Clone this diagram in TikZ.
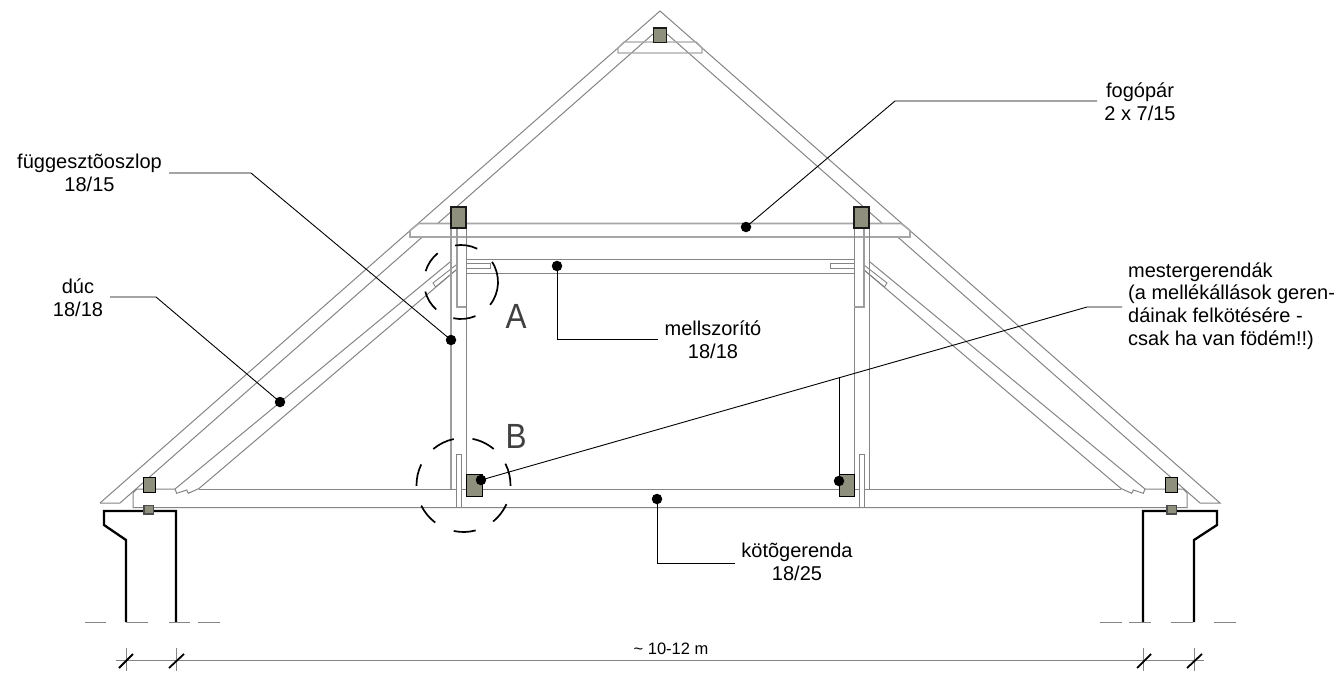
\documentclass[tikz,border=0pt]{standalone}
\usepackage{fontspec}
\setmainfont{Liberation Sans}
\tikzset{
  x=1pt,y=-1pt,
  wood/.style={draw=black!48,line width=1pt,line join=miter},
  woodb/.style={draw=black!35,line width=1.6pt},
  woodp/.style={draw=black!38,line width=1.2pt},
  woodw/.style={wood,fill=white},
  sq/.style={draw=black!90,line width=1.5pt,fill=squarefill},
  sqs/.style={draw=black!70,line width=1.5pt,fill=squarefill},
  sqt/.style={draw=black,line width=1pt,fill=squarefill},
  wall/.style={draw=black,line width=2.3pt,line join=miter},
  dimg/.style={draw=black!48,line width=1pt},
  slash/.style={draw=black,line width=1.8pt},
  lead/.style={draw=black,line width=.9pt},
  dot/.style={circle,fill=black,inner sep=0pt,minimum size=10.5pt},
  lab/.style={font=\fontsize{20}{22.6}\selectfont,align=center,inner sep=0pt},
  circ/.style={draw=black,line width=1.7pt},
  big/.style={font=\fontsize{35}{36}\selectfont,inner sep=0pt,text=black!75,xscale=.9},
}
\definecolor{squarefill}{HTML}{8F8F7E}
\begin{document}
\begin{tikzpicture}
\useasboundingbox (0,0) rectangle (1343,674);
\fill[white] (0,0) rectangle (1343,674);
% rafters
\draw[wood] (100,503) -- (660,11) -- (1220,503) -- (1200,503) -- (667,34);
\draw[wood] (100,503) -- (120,503) -- (653,34);
% apex plate
\draw[woodb,line width=1.4pt] (624,42) -- (618,48) -- (618,53) -- (702,53) -- (702,48) -- (696,42) -- cycle;
% collar
\draw[woodb,fill=white] (418.7,223.5) -- (410,230.5) -- (410,237) -- (910,237) -- (910,230.5) -- (901.3,223.5) -- cycle;
% struts
\draw[wood] (450,262) -- (175,489) -- (176.7,493.3) -- (186.7,490) -- (188.3,493.3) -- (199,488.5) -- (456,270);
\draw[wood] (870,262) -- (1145,489) -- (1143.3,493.3) -- (1133.3,490) -- (1131.7,493.3) -- (1121,488.5) -- (864,270);
\draw[wood,line width=.9pt] (456,265) -- (433,283) -- (435.5,287) -- (456,270);
\draw[wood,line width=.9pt] (864,265) -- (887,283) -- (884.5,287) -- (864,270);
% straining beam
\draw[wood] (466,259) -- (854,259) (466,273) -- (854,273);
\draw[wood,line width=.9pt] (466,263) -- (490,263) -- (490,268) -- (466,268);
\draw[wood,line width=.9pt] (854,263) -- (830,263) -- (830,268) -- (854,268);
% posts
\draw[woodp] (451,228) -- (451,489);
\draw[wood] (466,228) -- (466,474);
\draw[woodp] (457,228) -- (457,307) -- (466,307);
\draw[wood] (854,228) -- (854,474);
\draw[wood] (869,228) -- (869,489);
\draw[woodp] (864,228) -- (864,307) -- (854,307);
% tie beam
\draw[wood] (133,493) -- (137,489) -- (175,489);
\draw[wood] (199,489) -- (1121,489);
\draw[wood] (1145,489) -- (1183,489) -- (1187,493) -- (1187,507.5) -- (133,507.5) -- (133,493);
\draw[woodw,line width=.9pt] (456.5,507.5) -- (456.5,454) -- (461,454) -- (461,507.5) -- cycle;
\draw[woodw,line width=.9pt] (859.5,507.5) -- (859.5,454) -- (864,454) -- (864,507.5) -- cycle;
% squares
\draw[sq] (653.5,28) rectangle (666.5,42.5);
\draw[sq] (451,207) rectangle (466,228);
\draw[sq] (854,207) rectangle (869,228);
\draw[sqt] (143,477.5) rectangle (155,492);
\draw[sqt] (1165.5,477.5) rectangle (1177.5,492);
\draw[sqt] (466,474) rectangle (482,496);
\draw[sqt] (839,474) rectangle (854,496);
% walls
\draw[wall] (126,622) -- (126,540) -- (104,525) -- (104,511) -- (176,511) -- (176,622);
\draw[wall] (1194,622) -- (1194,540) -- (1217,525) -- (1217,511) -- (1143,511) -- (1143,622);
\draw[sqs] (144,505.5) rectangle (153.5,514);
\draw[sqs] (1167,505.5) rectangle (1176.5,514);
% ground dashes
\draw[dimg] (85,622) -- (106,622) (126,622) -- (148,622) (169,622) -- (190,622) (198,622) -- (220,622);
\draw[dimg] (1100,622) -- (1122,622) (1129,622) -- (1151,622) (1171,622) -- (1193,622) (1214,622) -- (1236,622);
% dimension
\draw[dimg] (116,660) -- (1204,660);
\draw[dimg] (126,648) -- (126,671) (176,648) -- (176,671) (1143,648) -- (1143,671) (1194,648) -- (1194,671);
\draw[slash] (119,668) -- (133,654) (169,668) -- (184,654) (1137,668) -- (1151,654) (1187,668) -- (1202,654);
\node[font=\fontsize{16.5}{18}\selectfont,inner sep=0pt] (dimt) at (671,649) {\~{} 10-12 m};
% detail circles
\begin{scope}[shift={(461,282)}]
\foreach \a/\b in {99/64,33/-38,-67/-102,-132/-165,163/129}
  \draw[circ] (\a:37 and -37) arc[start angle=-\a,end angle=-\b,radius=37];
\end{scope}
\begin{scope}[shift={(463.5,485)}]
\foreach \a/\b in {130/102,79/50,27/-1,-24/-51,-75/-102,-127/-154,181/154}
  \draw[circ] (\a:47 and -47) arc[start angle=-\a,end angle=-\b,radius=47];
\end{scope}
\node[big] (la) at (516,316) {A};
\node[big] (lb) at (516,436) {B};
% labels
\node[lab] (t1) at (89.5,173) {függesztõoszlop\\18/15};
\node[lab] (t2) at (78,298) {dúc\\18/18};
\node[lab] (t3) at (1140,102) {fogópár\\2 x 7/15};
\node[lab] (t4) at (713,340) {mellszorító\\18/18};
\node[lab] (t5) at (797,562) {kötõgerenda\\18/25};
\node[lab,align=left,anchor=west] (t6) at (1128,306) {mestergerendák\\(a mellékállások geren-\\dáinak felkötésére -\\csak ha van födém!!)};
% leaders
\node[dot] (d1) at (451,340) {};
\node[dot] (d2) at (280,402) {};
\node[dot] (d3) at (746,227) {};
\node[dot] (d4) at (557,266) {};
\node[dot] (d5) at (481,480) {};
\node[dot] (d6) at (839,481) {};
\node[dot] (d7) at (657,499) {};
\coordinate (a1) at (169,173); \coordinate (k1) at (251,173);
\coordinate (a2) at (110,297); \coordinate (k2) at (156,297);
\coordinate (a3) at (1097,101); \coordinate (k3) at (895,101);
\coordinate (a4) at (658,339); \coordinate (k4) at (557,339);
\coordinate (a5) at (1122,307); \coordinate (k5) at (1087,307);
\coordinate (k6) at (839,377);
\coordinate (a7) at (735,563); \coordinate (k7) at (657,563);
\draw[lead] (a1) -- (k1) -- (d1.center);
\draw[lead] (a2) -- (k2) -- (d2.center);
\draw[lead] (a3) -- (k3) -- (d3.center);
\draw[lead] (a4) -- (k4) -- (d4.center);
\draw[lead] (a5) -- (k5) -- (d5.center);
\draw[lead] (k6) -- (d6.center);
\draw[lead] (a7) -- (k7) -- (d7.center);
\end{tikzpicture}
\end{document}
